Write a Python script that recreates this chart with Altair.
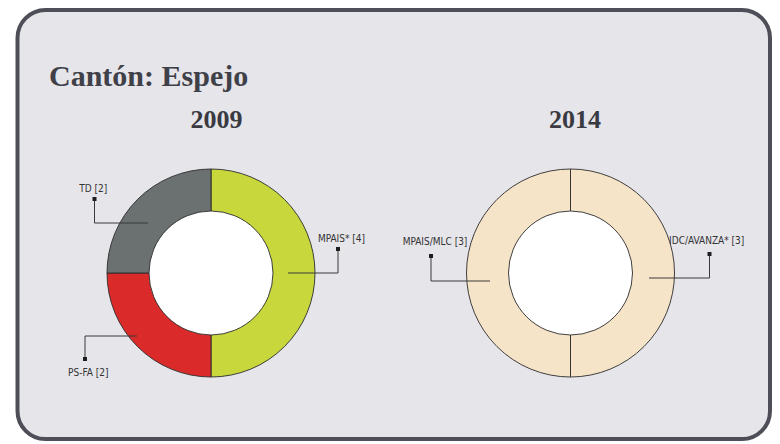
import math
import altair as alt
import pandas as pd

# ---------------- data ----------------
years = ["2009", "2009", "2009", "2014", "2014"]
parties = ["MPAIS*", "PS-FA", "TD", "IDC/AVANZA*", "MPAIS/MLC"]
seats = [4, 2, 2, 3, 3]
order_idx = [0, 1, 2, 0, 1]
colors = ["#c8d83c", "#da2a2a", "#6b7070", "#f6e4c8", "#f6e4c8"]
title_text = "Cantón: Espejo"
year_list = ["2009", "2014"]

# ---------------- layout (screen-like coordinates) ----------------
OX, OY = 17.5, 10.0          # frame stroke centre (top-left) on screen
W, H = 752.5, 429            # frame size
PAD = {"left": 9.5, "top": 2, "right": 2, "bottom": 2}
centers = {"2009": (211, 273), "2014": (570.5, 273)}
R_OUT, R_IN = 104, 62
title_pos = (49, 86)
year_pos = {"2009": (216.5, 128), "2014": (575, 128)}
# dot, elbow, end-in-ring, label anchor
leaders = {
    "MPAIS*": ((338, 249), (338, 273), (288, 273), (341.5, 242)),
    "PS-FA": ((85, 359), (85, 336), (137, 336), (88.3, 376)),
    "TD": ((94.5, 199), (94.5, 223), (148, 223), (93.3, 191.5)),
    "IDC/AVANZA*": ((709.5, 254), (709.5, 278), (649, 278), (706.7, 243.5)),
    "MPAIS/MLC": ((431, 256), (431, 281), (490, 281), (435, 245)),
}

df = pd.DataFrame({"year": years, "party": parties, "seats": seats,
                   "idx": order_idx, "color": colors})
df["label"] = [f"{p} [{s}]" for p, s in zip(parties, seats)]

xs = alt.Scale(domain=[OX, OX + W], range=[0, W], nice=False, zero=False)
ys = alt.Scale(domain=[OY, OY + H], range=[0, H], nice=False, zero=False)

layers = []
# white holes
for yr in year_list:
    cx, cy = centers[yr]
    layers.append(
        alt.Chart(pd.DataFrame({"year": [yr]}))
        .mark_arc(theta=0, theta2=2 * math.pi, innerRadius=0, outerRadius=R_IN,
                  fill="white", strokeWidth=0)
        .encode(x=alt.value(cx - OX), y=alt.value(cy - OY))
    )
# rings
for yr in year_list:
    cx, cy = centers[yr]
    layers.append(
        alt.Chart(df)
        .transform_filter(alt.datum.year == yr)
        .mark_arc(innerRadius=R_IN, outerRadius=R_OUT, stroke="#2b2b2b",
                  strokeWidth=0.9)
        .encode(
            theta=alt.Theta("seats:Q", stack="normalize"),
            color=alt.Color("color:N", scale=None),
            order=alt.Order("idx:Q"),
            x=alt.value(cx - OX),
            y=alt.value(cy - OY),
        )
    )

# leader lines
rows = []
for p in parties:
    pts = leaders[p][:3]
    for k, (x, y) in enumerate(pts):
        rows.append({"party": p, "x": x, "y": y, "ord": k})
lines_df = pd.DataFrame(rows)
layers.append(
    alt.Chart(lines_df).mark_line(color="#3a3a3a", strokeWidth=1)
    .encode(x=alt.X("x:Q", scale=xs, axis=None),
            y=alt.Y("y:Q", scale=ys, axis=None),
            detail="party:N", order="ord:Q")
)
dots_df = pd.DataFrame([{"party": p, "x": leaders[p][0][0], "y": leaders[p][0][1]}
                        for p in parties])
layers.append(
    alt.Chart(dots_df).mark_square(size=16, color="#1e1e1e", opacity=1)
    .encode(x=alt.X("x:Q", scale=xs, axis=None), y=alt.Y("y:Q", scale=ys, axis=None))
)
lab_df = df.copy()
lab_df["x"] = [leaders[p][3][0] for p in parties]
lab_df["y"] = [leaders[p][3][1] for p in parties]
layers.append(
    alt.Chart(lab_df).mark_text(
        font="DejaVu Sans Condensed, Liberation Sans Narrow, sans-serif",
        fontSize=10, color="#333333", align="center", baseline="alphabetic")
    .encode(x=alt.X("x:Q", scale=xs, axis=None), y=alt.Y("y:Q", scale=ys, axis=None),
            text="label:N")
)
# title
layers.append(
    alt.Chart(pd.DataFrame({"t": [title_text], "x": [title_pos[0]], "y": [title_pos[1]]}))
    .mark_text(font="Liberation Serif, Times New Roman, serif", fontWeight="bold",
               fontSize=30, color="#404048", align="left", baseline="alphabetic")
    .encode(x=alt.X("x:Q", scale=xs, axis=None), y=alt.Y("y:Q", scale=ys, axis=None),
            text="t:N")
)
# year titles
layers.append(
    alt.Chart(pd.DataFrame({"t": year_list,
                            "x": [year_pos[y][0] for y in year_list],
                            "y": [year_pos[y][1] for y in year_list]}))
    .mark_text(font="Liberation Serif, Times New Roman, serif", fontWeight="bold",
               fontSize=26, color="#3a3a42", align="center", baseline="alphabetic")
    .encode(x=alt.X("x:Q", scale=xs, axis=None), y=alt.Y("y:Q", scale=ys, axis=None),
            text="t:N")
)

chart = (
    alt.layer(*layers)
    .properties(width=W, height=H, autosize="none", background="white",
                padding=PAD)
    .configure_view(fill="#e5e5ea", stroke="#4e4e58", strokeWidth=4, cornerRadius=28)
)

chart.save("out.html", embed_options={"renderer": "svg", "actions": False})
